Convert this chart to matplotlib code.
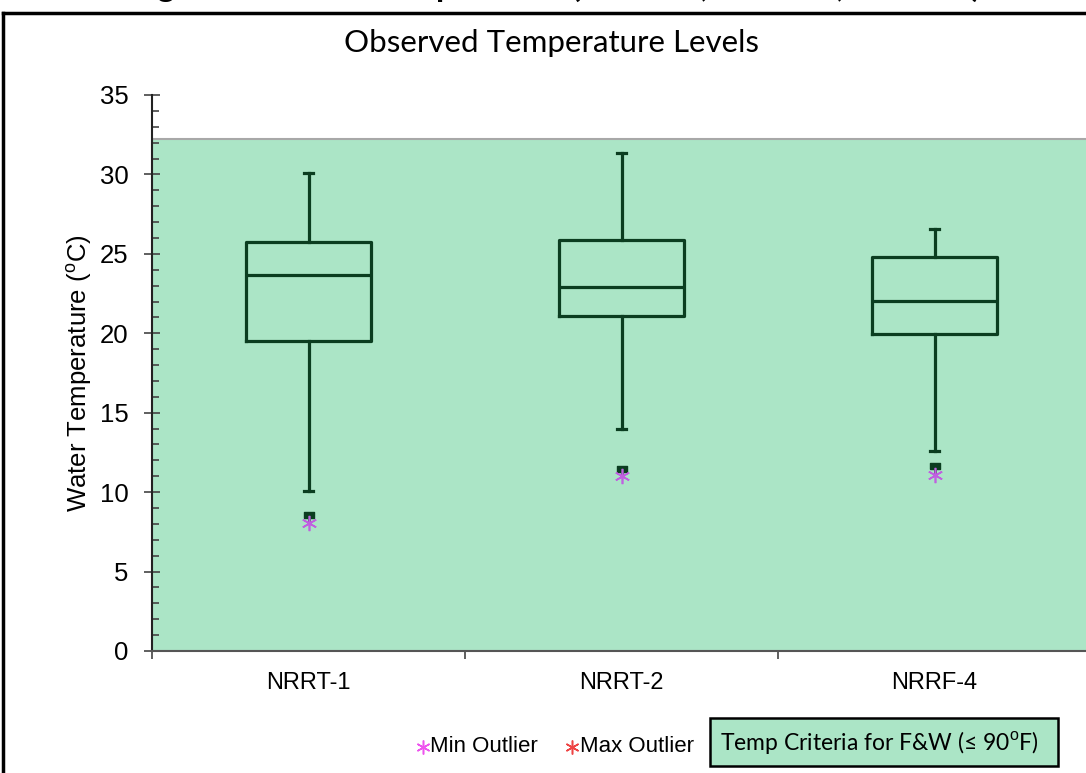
import matplotlib
matplotlib.use('Agg')
import matplotlib.pyplot as plt
from matplotlib.lines import Line2D
from matplotlib.patches import Rectangle

plt.rcParams['font.family'] = ['Liberation Sans', 'DejaVu Sans']
plt.rcParams['mathtext.fontset'] = 'custom'
plt.rcParams['mathtext.rm'] = 'Liberation Sans'

# data (deg C)
sites = ['NRRT-1', 'NRRT-2', 'NRRF-4']
whisk_lo = [10.05, 13.97, 12.59]
q1 = [19.49, 21.11, 19.95]
med = [23.69, 22.89, 22.05]
q3 = [25.73, 25.89, 24.82]
whisk_hi = [30.07, 31.35, 26.54]
min_mark = [8.59, 11.45, 11.65]
min_outlier = [8.05, 11.00, 11.08]
criteria = 32.2  # 90 F

green = '#ABE5C6'
dark = '#0B3D20'

fig = plt.figure(figsize=(10.86, 7.73), dpi=100)
ax = fig.add_axes([152/1086, 1-651/773, (1091-152)/1086, (651-95)/773])

ax.axhspan(0, criteria, facecolor=green, edgecolor='#A8A8A8', lw=1.5, zorder=0)

stats = []
for i, s in enumerate(sites):
    stats.append(dict(label=s, whislo=whisk_lo[i], q1=q1[i], med=med[i],
                      q3=q3[i], whishi=whisk_hi[i], fliers=[]))
pos = [1, 2, 3]
ax.bxp(stats, positions=pos, widths=0.4, capwidths=0.03, showfliers=False,
       boxprops=dict(color=dark, lw=2.3),
       medianprops=dict(color=dark, lw=2.3),
       whiskerprops=dict(color=dark, lw=2.3),
       capprops=dict(color=dark, lw=2.3))

# low end markers + min outliers
ax.vlines(pos, min_outlier, min_mark, color=dark, lw=2, zorder=3)
rect = [(-1, -0.6), (1, -0.6), (1, 0.6), (-1, 0.6), (-1, -0.6)]
ax.plot(pos, min_mark, ls='none', marker=rect, ms=7, color=dark, zorder=4)
ax.plot(pos, min_outlier, ls='none', marker=(6, 2, 0), ms=11, mew=1.2,
        color='#C060E0', zorder=5)

ax.set_xlim(0.5, 3.5)
ax.set_ylim(0, 35)
ax.set_xticks(pos)
ax.set_xticklabels(sites, fontsize=17)
ax.set_xticks([0.5, 1.5, 2.5, 3.5], minor=True)
ax.tick_params(axis='x', which='major', length=0, pad=15)
ax.tick_params(axis='x', which='minor', length=5.5, width=1.2, color='#444444', direction='out')
ax.set_yticks(range(0, 36, 5))
ax.set_yticks(range(0, 36), minor=True)
ax.tick_params(axis='y', which='major', direction='inout', length=12, width=1.2,
               color='#444444', labelsize=18.5, pad=11)
ax.tick_params(axis='y', which='minor', direction='in', length=5, width=1.2, color='#444444')
for s in ['top', 'right']:
    ax.spines[s].set_visible(False)
ax.spines['left'].set_color('#222222')
ax.spines['left'].set_linewidth(1.5)
ax.spines['bottom'].set_color('#555555')
ax.spines['bottom'].set_linewidth(1.5)
ax.set_ylabel('Water Temperature ($^{\\mathrm{o}}$C)', fontsize=18.5, labelpad=4)

fig.text(552/1086, 1-43/773, 'Observed Temperature Levels', family=['Lato', 'DejaVu Sans'],
         fontsize=22.5, ha='center', va='center')

# cut-off caption at the very top of the screenshot
fig.text(555/1086, 1+3/773, 'Figure 4. Water Temperature (NRRT-1, NRRT-2, NRRF-4)',
         family=['Lato', 'DejaVu Sans'], fontweight='bold', fontsize=24,
         ha='center', va='baseline')

# outer frame
fig.add_artist(Line2D([3/1086, 1], [1-13/773, 1-13/773], color='black', lw=2.5))
fig.add_artist(Line2D([3/1086, 3/1086], [0, 1-13/773], color='black', lw=2.5))

# legend row
ly = 1-747/773
fig.add_artist(Line2D([423/1086], [ly], ls='none', marker=(6, 2, 0), ms=10, mew=1.1, color='#EE55EE'))
fig.text(430/1086, ly, 'Min Outlier', fontsize=16, va='center')
fig.add_artist(Line2D([572/1086], [ly], ls='none', marker=(6, 2, 0), ms=10, mew=1.1, color='#EE4444'))
fig.text(580/1086, ly, 'Max Outlier', fontsize=16, va='center')
fig.add_artist(Rectangle((710/1086, 1-766/773), 348/1086, 48/773, transform=fig.transFigure,
                         facecolor=green, edgecolor='black', lw=1.8))
fig.text(720/1086, 1-742/773, 'Temp Criteria for F&W (\u2264 90$^{\\mathrm{o}}$F)',
         family=['Lato', 'DejaVu Sans'], fontsize=16.5, va='center')

fig.savefig('out.png', dpi=100)
